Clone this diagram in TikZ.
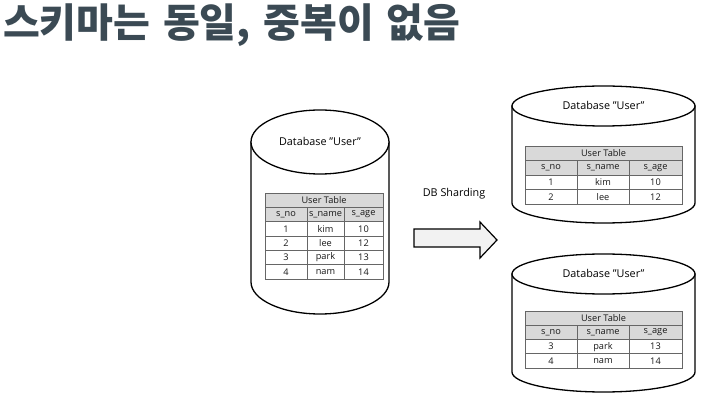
\documentclass[tikz,border=0pt]{standalone}
\usepackage{fontspec}
\setmainfont{Open Sans}
\newfontfamily\krfont{Noto Sans CJK KR}
\definecolor{titleink}{HTML}{3B4A54}
\definecolor{headfill}{HTML}{D9D9D9}
\definecolor{gridline}{HTML}{666666}
\definecolor{arrowfill}{HTML}{F2F2F2}
\newcommand\dq{\symbol{34}}
\tikzset{
  cylline/.style={draw=black, line width=1.3pt, fill=white},
  gridpen/.style={draw=gridline, line width=0.8pt},
  celltext/.style={inner sep=0pt, font=\fontsize{9.2}{10}\selectfont, text=black!90},
  dbtitle/.style={inner sep=0pt, font=\fontsize{10.8}{13}\selectfont, text=black},
  blockarrow/.style={draw=black, line width=1.2pt, fill=arrowfill},
}
% database cylinder: #1 name, #2 centre x, #3 radius x, #4 top centre y, #5 bottom centre y, #6 radius y
\newcommand\dbcylinder[6]{%
  \draw[cylline] ({#2-#3},#4) -- ({#2-#3},#5)
    arc[start angle=180, end angle=0, x radius=#3, y radius=#6] -- ({#2+#3},#4) -- cycle;
  \draw[cylline] (#2,#4) ellipse [x radius=#3, y radius=#6];
  \coordinate (#1-top) at (#2,#4);
  \node[dbtitle] (#1-label) at (#2,{#4-1}) {Database \dq User\dq};
}
% user table: #1 name, #2-#5 column edges x, #6 top y, #7 row height, #8 data rows, #9 number of data rows
\newcommand\usertable[9]{%
  \fill[headfill] (#2,#6) rectangle (#5,{#6+2*#7});
  \node[celltext] (#1-title) at ({(#2+#5)/2},{#6+0.5*#7}) {User Table};
  \node[celltext] (#1-hno)   at ({(#2+#3)/2},{#6+1.5*#7}) {s\_no};
  \node[celltext] (#1-hname) at ({(#3+#4)/2},{#6+1.5*#7}) {s\_name};
  \node[celltext] (#1-hage)  at ({(#4+#5)/2},{#6+1.5*#7}) {s\_age};
  \foreach \a/\b/\c [count=\i from 2] in {#8} {
    \node[celltext] (#1-no\i)   at ({(#2+#3)/2},{#6+(\i+0.5)*#7}) {\a};
    \node[celltext] (#1-name\i) at ({(#3+#4)/2},{#6+(\i+0.5)*#7}) {\b};
    \node[celltext] (#1-age\i)  at ({(#4+#5)/2},{#6+(\i+0.5)*#7}) {\c};
  }
  \foreach \r in {1,...,\numexpr #9+1\relax} {
    \draw[gridpen] (#2,{#6+\r*#7}) -- (#5,{#6+\r*#7});
  }
  \draw[gridpen] (#3,{#6+#7}) -- (#3,{#6+(#9+2)*#7});
  \draw[gridpen] (#4,{#6+#7}) -- (#4,{#6+(#9+2)*#7});
  \draw[gridpen] (#2,#6) rectangle (#5,{#6+(#9+2)*#7});
}
\begin{document}
\begin{tikzpicture}[x=1pt, y=-1pt]
  \useasboundingbox (0,0) rectangle (705,406);
  \fill[white] (0,0) rectangle (705,406);

  % heading
  \node[anchor=west, inner sep=0pt, text=titleink,
        font=\krfont\bfseries\fontsize{40}{44}\selectfont] (heading) at (3,25)
        {\spaceskip=0.32em 스키마는 동일, 중복이 없음};

  % original database
  \dbcylinder{src}{320}{69}{142}{282}{32}
  \usertable{srctab}{265}{307}{344}{383}{193}{14.33}
    {1/kim/10, 2/lee/12, 3/park/13, 4/nam/14}{4}

  % sharded databases
  \dbcylinder{shardA}{603.5}{91.5}{106}{203}{20}
  \usertable{tabA}{525}{577}{629}{682}{146}{14.5}
    {1/kim/10, 2/lee/12}{2}

  \dbcylinder{shardB}{603.5}{91.5}{274}{372}{20}
  \usertable{tabB}{525}{577}{629}{682}{311}{14.25}
    {3/park/13, 4/nam/14}{2}

  % sharding step
  \node[dbtitle] (sharding) at (454,194) {DB Sharding};
  \draw[blockarrow] (414,229) -- (480,229) -- (480,222) -- (497,240)
    -- (480,258) -- (480,247) -- (414,247) -- cycle;
  \coordinate (arrowtip) at (497,240);
\end{tikzpicture}
\end{document}
